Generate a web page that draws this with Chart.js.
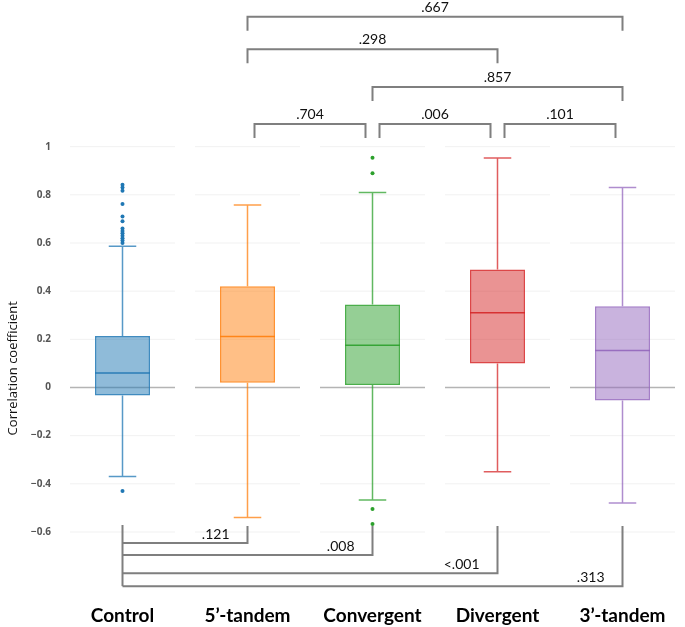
<!DOCTYPE html>
<html>
<head>
<meta charset="utf-8">
<script src="https://cdn.jsdelivr.net/npm/chart.js@4.4.0/dist/chart.umd.min.js"></script>
<style>
  body { margin: 0; background: #fff; }
  #wrap { width: 685px; height: 627px; position: relative; }
</style>
</head>
<body>
<div id="wrap"><canvas id="boxChart"></canvas></div>
<script>
// data
const categories = ['Control', '5\u2019-tandem', 'Convergent', 'Divergent', '3\u2019-tandem'];
const whiskerLow = [-0.37, -0.54, -0.467, -0.35, -0.48];
const q1 = [-0.033, 0.02, 0.01, 0.10, -0.054];
const median = [0.06, 0.212, 0.175, 0.31, 0.154];
const q3 = [0.214, 0.42, 0.345, 0.49, 0.337];
const whiskerHigh = [0.587, 0.758, 0.81, 0.953, 0.83];
const outliers = [
    [0.842, 0.83, 0.817, 0.762, 0.71, 0.69, 0.66, 0.65, 0.64, 0.63, 0.62, 0.61, 0.60, -0.43],
    [],
    [0.954, 0.89, -0.505, -0.567],
    [],
    []
];
const colors = ['31,119,180', '255,127,14', '44,160,44', '214,39,40', '148,103,189'];

const tickValues = [-0.6, -0.4, -0.2, 0, 0.2, 0.4, 0.6, 0.8, 1];
const tickLabels = ['\u22120.6', '\u22120.4', '\u22120.2', '0', '0.2', '0.4', '0.6', '0.8', '1'];

// pairwise p-values (category indexes)
const topPairs = [[1, 4], [1, 3], [2, 4], [1, 2], [2, 3], [3, 4]];
const topP = ['.667', '.298', '.857', '.704', '.006', '.101'];
const topLevels = [1.54, 1.405, 1.248, 1.094, 1.094, 1.094];
const bottomTargets = [1, 2, 3, 4];
const bottomP = ['.121', '.008', '<.001', '.313'];
const bottomLevels = [-0.646, -0.696, -0.771, -0.825];
const bottomLegTop = -0.575;

const outlierPoints = [];
const outlierColors = [];
outliers.forEach((list, i) => {
    list.forEach(v => {
        outlierPoints.push({ x: categories[i], y: v });
        outlierColors.push(`rgb(${colors[i]})`);
    });
});

const extras = {
    id: 'boxExtras',
    beforeDatasetsDraw(chart) {
        const { ctx, scales: { x, y } } = chart;
        const step = x.getPixelForValue(1) - x.getPixelForValue(0);
        ctx.save();
        tickValues.forEach(v => {
            const py = y.getPixelForValue(v);
            ctx.strokeStyle = v === 0 ? '#b4b4b4' : '#f1f1f1';
            ctx.lineWidth = v === 0 ? 1.5 : 1;
            categories.forEach((c, i) => {
                const cx = x.getPixelForValue(i);
                ctx.beginPath();
                ctx.moveTo(cx - step * 0.42, py);
                ctx.lineTo(cx + step * 0.42, py);
                ctx.stroke();
            });
        });
        ctx.restore();
    },
    afterDatasetsDraw(chart) {
        const { ctx, scales: { x, y } } = chart;
        const step = x.getPixelForValue(1) - x.getPixelForValue(0);
        const boxHalf = step * 0.22;
        const capHalf = step * 0.11;
        ctx.save();
        // whiskers + medians
        categories.forEach((c, i) => {
            const cx = x.getPixelForValue(i);
            ctx.strokeStyle = `rgba(${colors[i]},0.75)`;
            ctx.lineWidth = 1.5;
            ctx.beginPath();
            ctx.moveTo(cx, y.getPixelForValue(q3[i]));
            ctx.lineTo(cx, y.getPixelForValue(whiskerHigh[i]));
            ctx.moveTo(cx, y.getPixelForValue(q1[i]));
            ctx.lineTo(cx, y.getPixelForValue(whiskerLow[i]));
            ctx.moveTo(cx - capHalf, y.getPixelForValue(whiskerHigh[i]));
            ctx.lineTo(cx + capHalf, y.getPixelForValue(whiskerHigh[i]));
            ctx.moveTo(cx - capHalf, y.getPixelForValue(whiskerLow[i]));
            ctx.lineTo(cx + capHalf, y.getPixelForValue(whiskerLow[i]));
            ctx.stroke();
            ctx.strokeStyle = `rgba(${colors[i]},0.9)`;
            ctx.beginPath();
            ctx.moveTo(cx - boxHalf, y.getPixelForValue(median[i]));
            ctx.lineTo(cx + boxHalf, y.getPixelForValue(median[i]));
            ctx.stroke();
        });

        // significance brackets
        ctx.strokeStyle = '#7f7f7f';
        ctx.lineWidth = 2;
        ctx.fillStyle = '#111';
        ctx.font = '14px Lato';
        ctx.textBaseline = 'alphabetic';
        const leg = 14;
        topPairs.forEach(([a, b], k) => {
            const inset = b - a === 1 ? 7 : 0;
            const xa = x.getPixelForValue(a) + inset;
            const xb = x.getPixelForValue(b) - inset;
            const py = y.getPixelForValue(topLevels[k]);
            ctx.beginPath();
            ctx.moveTo(xa, py + leg);
            ctx.lineTo(xa, py);
            ctx.lineTo(xb, py);
            ctx.lineTo(xb, py + leg);
            ctx.stroke();
            ctx.textAlign = 'center';
            ctx.fillText(topP[k], (xa + xb) / 2, py - 5);
        });

        const x0 = x.getPixelForValue(0);
        ctx.beginPath();
        ctx.moveTo(x0, y.getPixelForValue(bottomLegTop + 0.004));
        ctx.lineTo(x0, y.getPixelForValue(bottomLevels[bottomLevels.length - 1]));
        ctx.stroke();
        bottomTargets.forEach((t, k) => {
            const xt = x.getPixelForValue(t);
            const py = y.getPixelForValue(bottomLevels[k]);
            ctx.beginPath();
            ctx.moveTo(x0, py);
            ctx.lineTo(xt, py);
            ctx.lineTo(xt, y.getPixelForValue(bottomLegTop));
            ctx.stroke();
            ctx.textAlign = 'right';
            ctx.fillText(bottomP[k], xt - 18, py - 4);
        });

        // y axis title
        ctx.translate(13, y.getPixelForValue(0.08));
        ctx.rotate(-Math.PI / 2);
        ctx.textAlign = 'center';
        ctx.textBaseline = 'middle';
        ctx.font = '13px "Open Sans"';
        ctx.fillStyle = '#111';
        ctx.fillText('Correlation coefficient', 0, 0);
        ctx.restore();
    }
};

new Chart(document.getElementById('boxChart'), {
    type: 'bar',
    data: {
        labels: categories,
        datasets: [{
            type: 'bar',
            data: categories.map((c, i) => [q1[i], q3[i]]),
            backgroundColor: colors.map(c => `rgba(${c},0.5)`),
            borderColor: colors.map(c => `rgba(${c},0.85)`),
            borderWidth: 1.5,
            borderSkipped: false,
            barPercentage: 0.44,
            categoryPercentage: 1,
            order: 2
        }, {
            type: 'line',
            data: outlierPoints,
            showLine: false,
            pointRadius: 2,
            pointBorderWidth: 0,
            pointBackgroundColor: outlierColors,
            order: 1
        }]
    },
    options: {
        responsive: true,
        maintainAspectRatio: false,
        animation: false,
        layout: { autoPadding: false, padding: 0 },
        plugins: {
            legend: { display: false },
            tooltip: { enabled: false }
        },
        scales: {
            x: {
                afterFit: s => { s.height = 30; },
                grid: { display: false },
                border: { display: false },
                ticks: { color: '#000', padding: 1, font: { family: 'Lato', size: 19, weight: 'bold', lineHeight: 1 } }
            },
            y: {
                min: -0.87,
                max: 1.58,
                afterBuildTicks: s => { s.ticks = tickValues.map(v => ({ value: v })); },
                afterFit: s => { s.width = 60; },
                grid: { display: false },
                border: { display: false },
                ticks: {
                    padding: 1,
                    color: '#555',
                    font: { family: 'Open Sans', size: 10, weight: 'bold' },
                    callback: (v, i) => tickLabels[i]
                }
            }
        }
    },
    plugins: [extras]
});
</script>
</body>
</html>
